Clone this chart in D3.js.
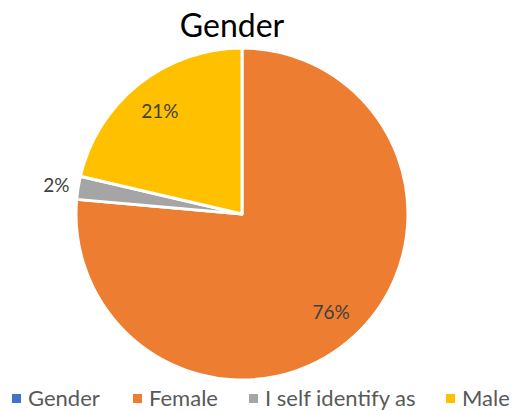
<!DOCTYPE html>
<html>
<head>
<meta charset="utf-8">
<script src="https://cdn.jsdelivr.net/npm/d3@7"></script>
<style>
  body { margin: 0; background: #fff; }
  svg { display: block; font-family: Lato, 'Open Sans', sans-serif; }
</style>
</head>
<body>
<svg id="container" width="515" height="411"></svg>
<script>
const categories = ['Gender', 'Female', 'I self identify as', 'Male']
const counts = [0, 68, 2, 19]
const labels = ['', '76%', '2%', '21%']
const colors = ['#4472C4', '#ED7D31', '#A5A5A5', '#FFC000']

const svg = d3.select('#container')
const cx = 242, cy = 214, r = 166

const data = categories.map((c, i) => ({ name: c, value: counts[i], label: labels[i], color: colors[i] }))

svg.append('text')
  .attr('x', 232)
  .attr('y', 37)
  .attr('text-anchor', 'middle')
  .attr('font-size', 32)
  .attr('fill', '#000')
  .text('Gender')

const pie = d3.pie().sort(null).value((d) => d.value)
const arcs = pie(data)
const arc = d3.arc().innerRadius(0).outerRadius(r)
const labelArc = d3.arc().innerRadius(132).outerRadius(132)
const outerArc = d3.arc().innerRadius(188).outerRadius(188)

const g = svg.append('g').attr('transform', `translate(${cx}, ${cy})`)

g.selectAll('path')
  .data(arcs.filter((d) => d.data.value > 0))
  .enter()
  .append('path')
  .attr('d', arc)
  .attr('fill', (d) => d.data.color)
  .attr('stroke', '#fff')
  .attr('stroke-width', 3)
  .attr('stroke-linejoin', 'round')

// small slices get their label outside the pie
g.selectAll('.lbl')
  .data(arcs.filter((d) => d.data.value > 0))
  .enter()
  .append('text')
  .classed('lbl', true)
  .attr('transform', (d) => {
    const small = d.endAngle - d.startAngle < 0.3
    return `translate(${(small ? outerArc : labelArc).centroid(d)})`
  })
  .attr('text-anchor', 'middle')
  .attr('dominant-baseline', 'central')
  .attr('font-size', 19)
  .attr('fill', '#404040')
  .text((d) => d.data.label)

// legend
const legendX = [12, 133, 249, 446]
const legend = svg.selectAll('.leg')
  .data(data)
  .enter()
  .append('g')
  .classed('leg', true)
  .attr('transform', (d, i) => `translate(${legendX[i]}, 394)`)

legend.append('rect')
  .attr('width', 9)
  .attr('height', 9)
  .attr('fill', (d) => d.color)

legend.append('text')
  .attr('x', 16)
  .attr('y', 12)
  .attr('font-size', 22)
  .attr('fill', '#595959')
  .text((d) => d.name)
</script>
</body>
</html>
